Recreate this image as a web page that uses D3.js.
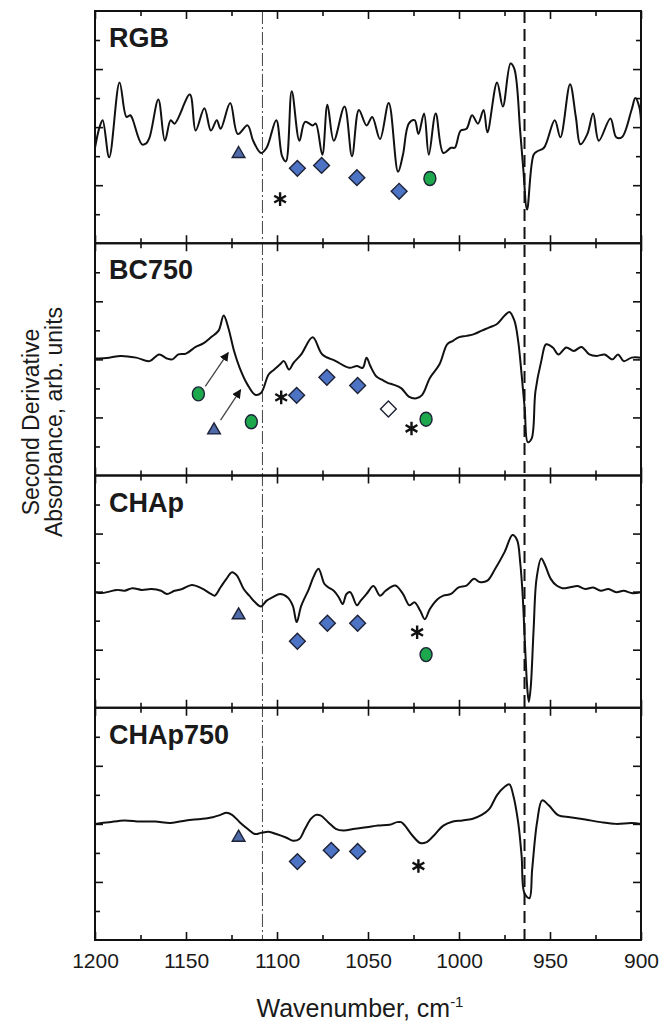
<!DOCTYPE html>
<html>
<head>
<meta charset="utf-8">
<script src="https://cdn.jsdelivr.net/npm/d3@7"></script>
<style>
  body { margin: 0; background: #fff; }
  .chart { width: 661px; height: 1028px; }
  text { font-family: "Liberation Sans", Arial, Helvetica, sans-serif; fill: #1a1a1a; }
</style>
</head>
<body>
<div class="chart"></div>
<script>
let chart = {};

// values: [wavenumber, second derivative (arb. units)]
const panelNames = ["RGB", "BC750", "CHAp", "CHAp750"];

const rgbSpectrum = [[1200,-0.71],[1197.5,0],[1195.8,0.24],[1192.2,-1.04],[1186.5,1.54],[1182.7,0.35],[1180.6,0.41],[1179.5,0.30],[1174.3,-0.59],[1172.1,-0.57],[1170,-0.35],[1165.2,0.95],[1161.6,-0.47],[1158.4,0.24],[1156.3,0.12],[1147.9,1.12],[1144.7,-0.12],[1139.9,0.65],[1136.3,-0.12],[1133.1,0.24],[1131,-0.06],[1125.7,0.83],[1121.5,-0.24],[1116.2,0.06],[1113.1,-0.47],[1108.8,-0.89],[1105.7,-0.71],[1100.4,0.24],[1097.2,-1.0],[1095.1,-1.18],[1091.9,1.24],[1087.7,-0.47],[1084.6,0.18],[1080.4,0.06],[1078.7,0.12],[1075.1,-0.95],[1072.3,0.77],[1068.8,-0.47],[1062.9,0.71],[1058.8,-1.0],[1055,0.59],[1050.8,0.06],[1047.7,0.35],[1043.4,-0.41],[1038.6,0.83],[1033.5,-1.54],[1030.8,-0.95],[1027.6,0.12],[1024.4,0.24],[1022.3,-0.24],[1019.2,0.47],[1016.6,-0.95],[1012.8,0.47],[1008.6,-0.89],[1004.4,-0.71],[1002.3,-0.71],[999.1,-0.12],[995.9,-0.06],[992.8,0.41],[989.6,0.12],[986.5,0.59],[984.4,-0.18],[979.1,1.54],[975.9,0.71],[971.7,2.19],[969.6,2.01],[966.4,-0.12],[964.7,-1.42],[962.6,-2.84],[959,-0.95],[956.9,-0.83],[953.3,-0.71],[947.4,0.24],[944.3,-0.35],[939,1.48],[935.8,0.35],[933.3,-0.59],[929.5,-0.24],[926.3,0.47],[923.2,-0.47],[916.8,0.30],[913.6,-0.35],[910.5,-0.35],[905.2,0.59],[903.1,1.0],[901,0.71],[900,0.24]];

const bc750Spectrum = [[1200,0.03],[1192.2,0.06],[1185.9,0.12],[1177.4,0.06],[1170,-0.06],[1164.8,0.17],[1160.5,0.03],[1157.4,0],[1154.2,0.17],[1150,0.20],[1144.7,0.43],[1140.5,0.55],[1136.3,0.76],[1132.1,0.99],[1129.3,1.51],[1126.8,1.10],[1123.6,0.29],[1120.5,-0.29],[1116.2,-0.87],[1112,-1.22],[1108.8,-1.16],[1104.6,-0.52],[1101.5,-0.35],[1098.3,-0.17],[1096.2,-0.06],[1093.4,-0.35],[1090.9,-0.12],[1086.7,0.17],[1080.4,0.76],[1075.1,0.17],[1067.7,-0.06],[1060.3,-0.29],[1056.1,-0.23],[1052.9,-0.29],[1050.8,0.06],[1048.7,-0.23],[1045.5,-0.58],[1042.4,-0.70],[1039.2,-0.81],[1036.1,-0.87],[1031.8,-0.99],[1027.6,-1.28],[1023.4,-1.34],[1020.2,-1.22],[1016,-0.64],[1010.7,-0.17],[1006.5,0.52],[1003.3,0.64],[1000.2,0.76],[995.9,0.81],[991.7,0.87],[987.5,0.99],[983.3,1.10],[979.1,1.22],[974.9,1.51],[972.3,1.63],[969.6,1.34],[967.5,0.64],[965.6,-0.52],[963.9,-1.69],[962.2,-2.85],[960.1,-2.73],[958,-1.10],[954.8,-0.06],[952.1,0.52],[948.5,0.41],[945.3,0.17],[941.1,0.41],[936.9,0.29],[932.7,0.43],[928.4,0.17],[924.2,0.12],[920,0.17],[915.8,0],[912.6,0.17],[909.5,-0.06],[905.2,0.06],[900,0.06]];

const chapSpectrum = [[1200,-0.02],[1196.4,-0.05],[1192.2,0],[1188,0.06],[1183.8,0.03],[1179.5,0.12],[1174.3,0.06],[1169,0.09],[1163.7,0.03],[1160.5,-0.08],[1156.3,0.03],[1152.1,0.09],[1146.8,0.23],[1141.6,0.12],[1136.3,-0.08],[1134.2,-0.14],[1131,0.15],[1127.8,0.44],[1124.7,0.67],[1122.1,0.56],[1118.3,0.09],[1115.2,-0.14],[1112,-0.37],[1108.8,-0.51],[1105.7,-0.31],[1102.5,-0.20],[1098.3,-0.08],[1094.1,-0.20],[1091.3,-0.49],[1089.2,-1.05],[1086.7,-0.49],[1082.5,0.09],[1080,0.50],[1077.2,0.79],[1074,0.27],[1071.9,0.15],[1068.8,0.03],[1066,-0.20],[1063.9,-0.43],[1061.8,-0.08],[1059.7,-0.02],[1056.1,-0.47],[1054,-0.31],[1050.8,-0.08],[1047,0.19],[1043.4,-0.14],[1040.3,0.03],[1035,0.21],[1030.8,-0.08],[1027.2,-0.47],[1024.4,-0.37],[1021.3,-0.66],[1018.8,-0.95],[1016,-0.60],[1011.8,-0.26],[1008.6,-0.14],[1004.4,-0.08],[1000.2,0.15],[995.9,0.21],[991.7,0.44],[988.6,0.33],[984.4,0.38],[980.1,0.79],[974.9,1.37],[970.6,1.95],[968.1,1.78],[966.4,1.02],[965,-0.14],[963.7,-1.88],[962.4,-3.4],[961.6,-3.8],[960.6,-3.3],[959,-1.3],[957.4,0.44],[954.8,1.14],[952.7,0.91],[949.6,0.44],[946.4,0.21],[943.2,0.12],[939,0.15],[934.8,0.19],[930.6,0.09],[926.3,0.14],[922.1,0.03],[917.9,0.09],[913.6,-0.02],[909.5,0.03],[905.2,-0.05],[900,-0.02]];

const chap750Spectrum = [[1200,0],[1192.2,0.06],[1183.8,0.12],[1175.3,0.08],[1166.9,0.08],[1158.4,0.03],[1150,0.12],[1141.6,0.17],[1135.2,0.23],[1131,0.31],[1127.8,0.38],[1124.7,0.31],[1120.5,0.06],[1116.2,-0.17],[1112,-0.35],[1108.8,-0.31],[1104.6,-0.27],[1100.4,-0.35],[1095.1,-0.47],[1091.3,-0.58],[1087.7,-0.52],[1084.6,-0.17],[1081.4,0.17],[1078.7,0.31],[1076.1,0.29],[1071.9,0.06],[1067.7,-0.17],[1063.5,-0.23],[1057.2,-0.17],[1050.8,-0.12],[1044.5,-0.06],[1038.2,-0.03],[1034,0.06],[1031.8,0.06],[1029.7,-0.06],[1025.5,-0.41],[1021.3,-0.66],[1018.1,-0.64],[1013.9,-0.41],[1008.6,-0.06],[1003.3,0.08],[998.1,0.12],[992.8,0.17],[987.5,0.31],[983.3,0.52],[979.1,0.99],[974.9,1.28],[972.3,1.36],[970.2,0.99],[967.5,0.06],[965.6,-1.10],[964.1,-2.38],[961.3,-2.56],[959.8,-1.57],[957.1,0.06],[954.3,0.81],[950.7,0.64],[945.3,0.29],[939,0.23],[930.6,0.15],[922.1,0.06],[913.6,0],[905.2,0.03],[900,0]];

// band assignments: [panel index, wavenumber, value]
const triangleMarks = [[0,1121.1,-0.92],[1,1134.6,-2.44],[2,1121.1,-0.81],[3,1121.1,-0.47]];
const diamondMarks = [[0,1088.8,-1.42],[0,1075.5,-1.32],[0,1056.1,-1.74],[0,1032.9,-2.21],
                      [1,1089.2,-1.24],[1,1072.6,-0.62],[1,1055.7,-0.90],
                      [2,1088.8,-1.71],[2,1072.3,-1.09],[2,1055.7,-1.09],
                      [3,1088.8,-1.30],[3,1070.2,-0.91],[3,1055.7,-0.95]];
const openDiamondMarks = [[1,1038.8,-1.71]];
const circleMarks = [[0,1016.0,-1.77],[1,1143.2,-1.19],[1,1114.1,-2.15],[1,1018.1,-2.06],[2,1018.1,-2.17]];
const asteriskMarks = [[0,1098.3,-2.48],[1,1097.7,-1.31],[1,1026.1,-2.38],[2,1023.0,-1.40],[3,1022.3,-1.45]];
// arrows in BC750: [panel, from wn, from val, to wn, to val]
const arrowMarks = [[1,1139.4,-0.93,1126.8,0.23],[1,1131.0,-2.09,1120.0,-1.05]];

const xMajorTicks = [1200, 1150, 1100, 1050, 1000, 950, 900];
const xMinorTicks = [1175, 1125, 1075, 1025, 975, 925];
const yMajorTicks = [-2, 0, 2];
const yMinorTicks = [-3, -1, 1, 3];
const dashDotLine = 1108;   // vertical reference, dash-dot
const dashedLine = 964;     // vertical reference, dashed

const spectra = [rgbSpectrum, bc750Spectrum, chapSpectrum, chap750Spectrum];

chart.margin = {top: 11, right: 20, bottom: 88, left: 95};
chart.width = 661 - chart.margin.left - chart.margin.right;
chart.height = 1028 - chart.margin.top - chart.margin.bottom;
chart.panelH = chart.height / panelNames.length;

chart.svg = d3.select(".chart").append("svg")
  .attr("width", 661).attr("height", 1028);

chart.plot = chart.svg.append("g")
  .attr("transform", `translate(${chart.margin.left},${chart.margin.top})`);

chart.xScale = d3.scaleLinear().domain([1200, 900]).range([0, chart.width]);

chart.yScales = panelNames.map((n, i) => d3.scaleLinear()
  .domain([-4, 4])
  .range([(i + 1) * chart.panelH, i * chart.panelH]));

const line = (ys) => d3.line()
  .x(d => chart.xScale(d[0]))
  .y(d => ys(d[1]))
  .curve(d3.curveCatmullRom.alpha(0.5));

// reference lines behind everything
chart.plot.append("line")
  .attr("x1", chart.xScale(dashDotLine)).attr("x2", chart.xScale(dashDotLine))
  .attr("y1", 0).attr("y2", chart.height)
  .attr("stroke", "#444").attr("stroke-width", 1)
  .attr("stroke-dasharray", "13,3,2,3");

chart.plot.append("line")
  .attr("x1", chart.xScale(dashedLine)).attr("x2", chart.xScale(dashedLine))
  .attr("y1", 0).attr("y2", chart.height)
  .attr("stroke", "#111").attr("stroke-width", 2)
  .attr("stroke-dasharray", "12,6");

function styleAxis(g) {
  g.select(".domain").remove();
  g.selectAll(".tick line").attr("stroke", "#111").attr("stroke-width", 1.6);
}

panelNames.forEach((name, i) => {
  let ys = chart.yScales[i];
  let top = i * chart.panelH, bottom = (i + 1) * chart.panelH;
  let p = chart.plot.append("g").attr("class", "panel");

  // ticks on all four sides, pointing in
  [[xMajorTicks, 8], [xMinorTicks, 5]].forEach(([vals, len]) => {
    p.append("g").attr("transform", `translate(0,${top})`)
      .call(d3.axisTop(chart.xScale).tickValues(vals).tickSize(-len).tickFormat(""))
      .call(styleAxis);
    let b = p.append("g").attr("transform", `translate(0,${bottom})`)
      .call(d3.axisBottom(chart.xScale).tickValues(vals).tickSize(-len).tickPadding(13)
        .tickFormat(i === panelNames.length - 1 && len === 8 ? d3.format("d") : ""))
      .call(styleAxis);
    b.selectAll("text").attr("font-size", 21).attr("fill", "#1a1a1a")
      .attr("font-family", "'Liberation Sans', Arial, sans-serif");
  });
  [[yMajorTicks, 8], [yMinorTicks, 5]].forEach(([vals, len]) => {
    p.append("g")
      .call(d3.axisLeft(ys).tickValues(vals).tickSize(-len).tickFormat(""))
      .call(styleAxis);
    p.append("g").attr("transform", `translate(${chart.width},0)`)
      .call(d3.axisRight(ys).tickValues(vals).tickSize(-len).tickFormat(""))
      .call(styleAxis);
  });

  p.append("path")
    .datum(spectra[i])
    .attr("d", line(ys))
    .attr("fill", "none")
    .attr("stroke", "#111")
    .attr("stroke-width", 2)
    .attr("stroke-linejoin", "round");

  p.append("text")
    .attr("x", 14).attr("y", top + 36)
    .attr("font-size", 27).attr("font-weight", "bold")
    .text(name);

  p.append("rect")
    .attr("x", 0).attr("y", top)
    .attr("width", chart.width).attr("height", chart.panelH)
    .attr("fill", "none").attr("stroke", "#111").attr("stroke-width", 2);
});

const px = d => chart.xScale(d[1]);
const py = d => chart.yScales[d[0]](d[2]);

chart.svg.append("defs").append("marker")
  .attr("id", "arrowhead")
  .attr("viewBox", "0 0 10 10").attr("refX", 9).attr("refY", 5)
  .attr("markerWidth", 7).attr("markerHeight", 7)
  .attr("orient", "auto")
  .append("path").attr("d", "M0,0 L10,5 L0,10 z").attr("fill", "#111");

chart.plot.selectAll(".arrow")
  .data(arrowMarks).enter().append("line")
  .attr("class", "arrow")
  .attr("x1", px).attr("y1", py)
  .attr("x2", d => chart.xScale(d[3]))
  .attr("y2", d => chart.yScales[d[0]](d[4]))
  .attr("stroke", "#444").attr("stroke-width", 1.3)
  .attr("marker-end", "url(#arrowhead)");

chart.plot.selectAll(".tri")
  .data(triangleMarks).enter().append("path")
  .attr("class", "tri")
  .attr("transform", d => `translate(${px(d)},${py(d)})`)
  .attr("d", d3.symbol().type(d3.symbolTriangle).size(70))
  .attr("fill", "#4f6aa8").attr("stroke", "#1d2236").attr("stroke-width", 1.4);

chart.plot.selectAll(".dia")
  .data(diamondMarks).enter().append("path")
  .attr("class", "dia")
  .attr("transform", d => `translate(${px(d)},${py(d)}) rotate(45)`)
  .attr("d", d3.symbol().type(d3.symbolSquare).size(125))
  .attr("fill", "#4d73c4").attr("stroke", "#1d2236").attr("stroke-width", 1.4);

chart.plot.selectAll(".odia")
  .data(openDiamondMarks).enter().append("path")
  .attr("class", "odia")
  .attr("transform", d => `translate(${px(d)},${py(d)}) rotate(45)`)
  .attr("d", d3.symbol().type(d3.symbolSquare).size(125))
  .attr("fill", "#fff").attr("stroke", "#1d2236").attr("stroke-width", 1.4);

chart.plot.selectAll(".dot")
  .data(circleMarks).enter().append("ellipse")
  .attr("class", "dot")
  .attr("cx", px).attr("cy", py)
  .attr("rx", 6).attr("ry", 7)
  .attr("fill", "#1ea84e").attr("stroke", "#1d2236").attr("stroke-width", 1.4);

chart.plot.selectAll(".ast")
  .data(asteriskMarks).enter().append("path")
  .attr("class", "ast")
  .attr("transform", d => `translate(${px(d)},${py(d)})`)
  .attr("d", d3.symbol().type(d3.symbolAsterisk).size(130))
  .attr("fill", "none").attr("stroke", "#111").attr("stroke-width", 2.4);

// axis titles
chart.svg.append("text")
  .attr("x", chart.margin.left + chart.width / 2 - 8)
  .attr("y", 1017)
  .attr("text-anchor", "middle")
  .attr("font-size", 25)
  .text("Wavenumber, cm")
  .append("tspan").attr("dy", -10).attr("font-size", 15).text("-1");

const yTitle = chart.svg.append("g")
  .attr("transform", "translate(0,422) rotate(-90)");
yTitle.append("text")
  .attr("x", 0).attr("y", 39)
  .attr("text-anchor", "middle").attr("font-size", 23)
  .text("Second Derivative");
yTitle.append("text")
  .attr("x", 0).attr("y", 62)
  .attr("text-anchor", "middle").attr("font-size", 23)
  .text("Absorbance, arb. units");
</script>
</body>
</html>
